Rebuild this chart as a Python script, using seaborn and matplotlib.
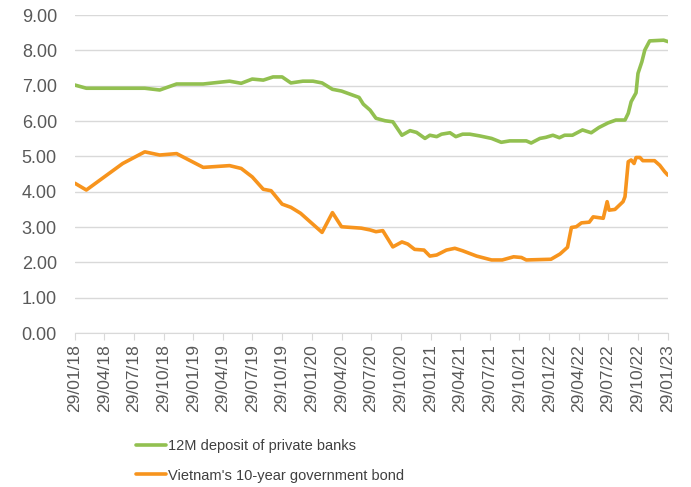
import pandas as pd
import matplotlib.pyplot as plt
import matplotlib.dates as mdates
import seaborn as sns

# 12M deposit rate of private banks (%)
deposit_dates = [
    "2018-01-29", "2018-03-05", "2018-09-01", "2018-10-17", "2018-12-08",
    "2019-02-28", "2019-05-20", "2019-06-25", "2019-07-29", "2019-09-01",
    "2019-10-01", "2019-10-29", "2019-11-25", "2020-01-01", "2020-02-01",
    "2020-02-29", "2020-04-01", "2020-04-29", "2020-06-22", "2020-07-05",
    "2020-07-26", "2020-08-13", "2020-09-10", "2020-10-04", "2020-11-01",
    "2020-11-26", "2020-12-16", "2021-01-11", "2021-01-26", "2021-02-16",
    "2021-03-03", "2021-03-29", "2021-04-16", "2021-05-07", "2021-05-29",
    "2021-06-29", "2021-08-04", "2021-09-03", "2021-09-29", "2021-11-19",
    "2021-12-04", "2021-12-31", "2022-01-18", "2022-02-09", "2022-03-01",
    "2022-03-17", "2022-04-10", "2022-05-11", "2022-06-07", "2022-07-01",
    "2022-07-29", "2022-08-22", "2022-09-19", "2022-09-29", "2022-10-08",
    "2022-10-23", "2022-10-29", "2022-11-10", "2022-11-19", "2022-12-04",
    "2023-01-16", "2023-01-29",
]
deposit_rate = [
    7.02, 6.93, 6.93, 6.88, 7.05,
    7.05, 7.13, 7.07, 7.19, 7.16,
    7.25, 7.25, 7.08, 7.13, 7.13,
    7.08, 6.90, 6.85, 6.67, 6.48,
    6.31, 6.08, 6.01, 5.98, 5.60,
    5.73, 5.68, 5.51, 5.60, 5.56,
    5.63, 5.67, 5.56, 5.63, 5.63,
    5.58, 5.51, 5.40, 5.44, 5.44,
    5.38, 5.51, 5.54, 5.60, 5.53,
    5.60, 5.60, 5.75, 5.67, 5.82,
    5.95, 6.03, 6.03, 6.22, 6.55,
    6.80, 7.35, 7.68, 8.01, 8.27,
    8.29, 8.25,
]

# Vietnam 10-year government bond yield (%)
bond_dates = [
    "2018-01-29", "2018-03-05", "2018-06-25", "2018-09-01", "2018-10-17",
    "2018-12-08", "2019-02-28", "2019-05-20", "2019-06-25", "2019-07-29",
    "2019-09-01", "2019-09-25", "2019-10-29", "2019-11-25", "2019-12-25",
    "2020-02-29", "2020-04-01", "2020-04-29", "2020-06-29", "2020-07-26",
    "2020-08-13", "2020-09-03", "2020-10-04", "2020-11-01", "2020-11-19",
    "2020-12-10", "2021-01-08", "2021-01-26", "2021-02-16", "2021-03-18",
    "2021-04-13", "2021-05-07", "2021-06-19", "2021-08-04", "2021-09-06",
    "2021-10-11", "2021-11-04", "2021-11-19", "2022-02-03", "2022-03-03",
    "2022-03-26", "2022-04-07", "2022-04-22", "2022-05-08", "2022-06-01",
    "2022-06-13", "2022-07-14", "2022-07-26", "2022-08-01", "2022-08-19",
    "2022-09-13", "2022-09-19", "2022-09-29", "2022-10-08", "2022-10-17",
    "2022-10-23", "2022-11-04", "2022-11-13", "2022-12-19", "2023-01-04",
    "2023-01-19", "2023-01-29",
]
bond_yield = [
    4.24, 4.05, 4.80, 5.13, 5.04,
    5.08, 4.69, 4.74, 4.66, 4.42,
    4.07, 4.03, 3.65, 3.56, 3.39,
    2.85, 3.41, 3.01, 2.97, 2.92,
    2.87, 2.90, 2.44, 2.58, 2.52,
    2.37, 2.35, 2.18, 2.21, 2.35,
    2.40, 2.33, 2.18, 2.07, 2.07,
    2.16, 2.14, 2.07, 2.09, 2.24,
    2.43, 2.99, 3.01, 3.12, 3.14,
    3.29, 3.25, 3.72, 3.48, 3.50,
    3.72, 3.86, 4.85, 4.90, 4.80,
    4.97, 4.97, 4.88, 4.88, 4.75,
    4.57, 4.47,
]

label_deposit = "12M deposit of private banks"
label_bond = "Vietnam's 10-year government bond"

df = pd.concat([
    pd.DataFrame({"date": pd.to_datetime(deposit_dates), "rate": deposit_rate, "series": label_deposit}),
    pd.DataFrame({"date": pd.to_datetime(bond_dates), "rate": bond_yield, "series": label_bond}),
])

sns.set_style("white")
plt.rcParams["font.family"] = ["Liberation Sans", "DejaVu Sans"]

fig = plt.figure(figsize=(6.91, 4.87), dpi=100)
ax = fig.add_axes([0.1085, 0.316, 0.858, 0.653])

sns.lineplot(data=df, x="date", y="rate", hue="series",
             palette={label_deposit: "#92C050", label_bond: "#F7941D"},
             linewidth=2.6, ax=ax, legend=True)

ax.set_ylim(0, 9)
ax.set_yticks(range(0, 10))
ax.yaxis.set_major_formatter(plt.FuncFormatter(lambda v, p: f"{v:.2f}"))
ax.set_xlim(pd.Timestamp("2018-01-29"), pd.Timestamp("2023-01-29"))
ticks = pd.date_range("2018-01-29", "2023-01-29", freq=pd.DateOffset(months=3))
ax.set_xticks(ticks)
ax.xaxis.set_major_formatter(mdates.DateFormatter("%d/%m/%y"))
ax.tick_params(axis="x", rotation=90, labelsize=12.5, colors="#595959",
               length=5, width=0.8, direction="out", bottom=True, color="#D9D9D9", pad=3)
ax.tick_params(axis="y", labelsize=13, colors="#595959", length=0, pad=13)
ax.grid(axis="y", color="#D9D9D9", linewidth=1)
ax.set_xlabel("")
ax.set_ylabel("")
for s in ["top", "right", "left"]:
    ax.spines[s].set_visible(False)
ax.spines["bottom"].set_color("#D9D9D9")

handles, labels = ax.get_legend_handles_labels()
ax.legend(handles, labels, loc="upper left", bbox_to_anchor=(0.178, 0.125),
          bbox_transform=fig.transFigure, frameon=False, fontsize=10.5,
          handlelength=2.05, handletextpad=0.15, labelspacing=1.05)
for t in ax.get_legend().get_texts():
    t.set_color("#404040")

fig.savefig("out.png", dpi=100)
